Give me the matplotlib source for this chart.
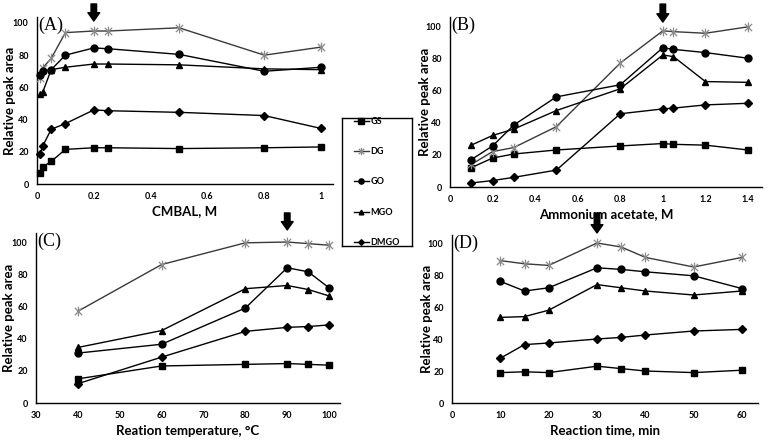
import matplotlib
matplotlib.use("Agg")
import matplotlib.pyplot as plt
from matplotlib.lines import Line2D
from matplotlib.path import Path

# ---------------- data ----------------
series_names = ["GS", "DG", "GO", "MGO", "DMGO"]

a_x = [0.01, 0.02, 0.05, 0.1, 0.2, 0.25, 0.5, 0.8, 1.0]
a_GS = [7, 10.5, 14, 21.5, 22.5, 22.5, 22, 22.5, 23]
a_DG = [66, 72, 78, 94, 95, 95, 97, 80, 85]
a_GO = [67.5, 70, 71, 80, 84.5, 84, 80.5, 70, 72.5]
a_MGO = [56, 57, 71, 72.5, 74.5, 74.5, 74, 71.5, 71]
a_DMGO = [18.5, 23.5, 34, 37.5, 46, 45.5, 44.5, 42.5, 34.5]

b_x = [0.1, 0.2, 0.3, 0.5, 0.8, 1.0, 1.05, 1.2, 1.4]
b_GS = [12, 18, 20.5, 23, 25.5, 27, 26.5, 26, 23]
b_DG = [14, 22, 24.5, 37.5, 77, 97, 96.5, 95.5, 99.5]
b_GO = [17, 25.5, 38.5, 56, 63.5, 86.5, 85.5, 83.5, 80]
b_MGO = [26, 32, 36, 47.5, 61, 82, 81, 65.5, 65]
b_DMGO = [2.5, 4, 6, 10.5, 45.5, 48.5, 49, 51, 52]

c_x = [40, 60, 80, 90, 95, 100]
c_GS = [15, 23, 24, 24.5, 24, 23.5]
c_DG = [57, 86, 99.5, 100, 99, 98]
c_GO = [31, 36.5, 59, 84, 81.5, 71.5]
c_MGO = [34.5, 45, 71, 73, 70.5, 66.5]
c_DMGO = [12, 28.5, 44.5, 47, 47.5, 48.5]

d_x = [10, 15, 20, 30, 35, 40, 50, 60]
d_GS = [19, 19.5, 19, 23, 21.5, 20, 19, 20.5]
d_DG = [89, 87, 86, 100, 97.5, 91, 85, 91]
d_GO = [76, 70, 72, 84.5, 83.5, 82, 79.5, 71.5]
d_MGO = [53.5, 54, 58, 74, 72, 70, 67.5, 70]
d_DMGO = [28, 36.5, 37.5, 40, 41, 42.5, 45, 46]

a_xticks = [0, 0.2, 0.4, 0.6, 0.8, 1]
a_xticklabels = ["0", "0.2", "0.4", "0.6", "0.8", "1"]
b_xticks = [0, 0.2, 0.4, 0.6, 0.8, 1, 1.2, 1.4]
b_xticklabels = ["0", "0.2", "0.4", "0.6", "0.8", "1", "1.2", "1.4"]
c_xticks = [30, 40, 50, 60, 70, 80, 90, 100]
d_xticks = [0, 10, 20, 30, 40, 50, 60]
yticks = [0, 20, 40, 60, 80, 100]

panel_labels = ["(A)", "(B)", "(C)", "(D)"]
xlabels = ["CMBAL, M", "Ammonium acetate, M", "Reation temperature, \u00b0C", "Reaction time, min"]
ylabel = "Relative peak area"
optimum_x = [0.2, 1.0, 90, 30]

# ---------------- style ----------------
TICKFONT = dict(family="Lato", weight="bold", size=6.5)
LABFONT = dict(family="Lato", weight="bold", size=9.5)

# Excel-like star marker: an "x" with a vertical bar
_d = 0.75
star = Path(
    [(0, -1), (0, 1), (-_d, -_d), (_d, _d), (-_d, _d), (_d, -_d)],
    [Path.MOVETO, Path.LINETO, Path.MOVETO, Path.LINETO, Path.MOVETO, Path.LINETO],
)
styles = {
    "GS": dict(marker="s", ms=5, color="black", mfc="black", mec="black"),
    "DG": dict(marker=star, ms=7, color="#3a3a3a", mfc="none", mec="#8a8a8a", mew=0.9),
    "GO": dict(marker="o", ms=5, color="black", mfc="black", mec="black"),
    "MGO": dict(marker="^", ms=4.5, color="black", mfc="black", mec="black"),
    "DMGO": dict(marker="D", ms=3.8, color="black", mfc="black", mec="black"),
}

fig = plt.figure(figsize=(7.68, 4.4), dpi=100)

# axes rectangles (figure fraction)
rects = [
    [37 / 768, 1 - 184 / 440, 296 / 768, 167 / 440],
    [450 / 768, 1 - 187 / 440, 312 / 768, 170 / 440],
    [36 / 768, 1 - 403 / 440, 304 / 768, 170 / 440],
    [452 / 768, 1 - 403 / 440, 306 / 768, 168 / 440],
]
xlims = [(0, 1.042), (0, 1.466), (30, 102.6), (0, 63.3)]
ylims = [(0, 103.7), (0, 105.6), (0, 105.6), (0, 105)]
arrow_y = [(1.078, 0.976), (1.076, 0.97), (1.118, 1.018), (1.131, 1.012)]
ylabel_x = [-0.070, -0.062, -0.068, -0.063]

panels = [
    (a_x, [a_GS, a_DG, a_GO, a_MGO, a_DMGO], a_xticks, a_xticklabels),
    (b_x, [b_GS, b_DG, b_GO, b_MGO, b_DMGO], b_xticks, b_xticklabels),
    (c_x, [c_GS, c_DG, c_GO, c_MGO, c_DMGO], c_xticks, [str(v) for v in c_xticks]),
    (d_x, [d_GS, d_DG, d_GO, d_MGO, d_DMGO], d_xticks, [str(v) for v in d_xticks]),
]

for i, (xs, ys_list, xt, xtl) in enumerate(panels):
    ax = fig.add_axes(rects[i])
    for name, ys in zip(series_names, ys_list):
        st = styles[name]
        ax.plot(xs, ys, lw=1.0, clip_on=False, zorder=3, **st)
    ax.set_xlim(*xlims[i])
    ax.set_ylim(*ylims[i])
    for s in ["top", "right"]:
        ax.spines[s].set_visible(False)
    for s in ["left", "bottom"]:
        ax.spines[s].set_linewidth(1.0)
    ax.set_xticks(xt)
    ax.set_xticklabels(xtl, fontdict=TICKFONT)
    ax.set_yticks(yticks)
    ax.set_yticklabels([str(v) for v in yticks], fontdict=TICKFONT)
    ax.tick_params(length=0, pad=6)
    ax.set_xlabel(xlabels[i], fontdict=LABFONT, labelpad=3)
    ax.set_ylabel(ylabel, fontdict=LABFONT)
    ax.yaxis.set_label_coords(ylabel_x[i], 0.5)
    ax.text(0.005, 1.0, panel_labels[i], transform=ax.transAxes,
            family="Liberation Serif", fontsize=13, va="top", ha="left")
    trans = ax.get_xaxis_transform()
    ax.annotate("", xy=(optimum_x[i], arrow_y[i][1]), xytext=(optimum_x[i], arrow_y[i][0]),
                xycoords=trans, textcoords=trans, annotation_clip=False,
                arrowprops=dict(arrowstyle="simple,head_width=0.85,head_length=0.6,tail_width=0.4",
                                color="black", shrinkA=0, shrinkB=0, mutation_scale=10))

# legend box
lax = fig.add_axes([342 / 768, 1 - 246 / 440, 70 / 768, 128 / 440])
lax.set_xticks([])
lax.set_yticks([])
for s in lax.spines.values():
    s.set_linewidth(1.0)
    s.set_color("black")
handles = []
for name in series_names:
    st = dict(styles[name])
    st["ms"] = st["ms"] * 0.75
    handles.append(Line2D([0], [0], lw=1.0, **st))
lax.legend(handles, series_names, loc="center", frameon=False,
           prop=dict(family="Lato", weight="bold", size=6.5),
           handlelength=1.6, handletextpad=0.2, labelspacing=2.35,
           borderaxespad=0, borderpad=0)

fig.savefig("out.png", dpi=100)
